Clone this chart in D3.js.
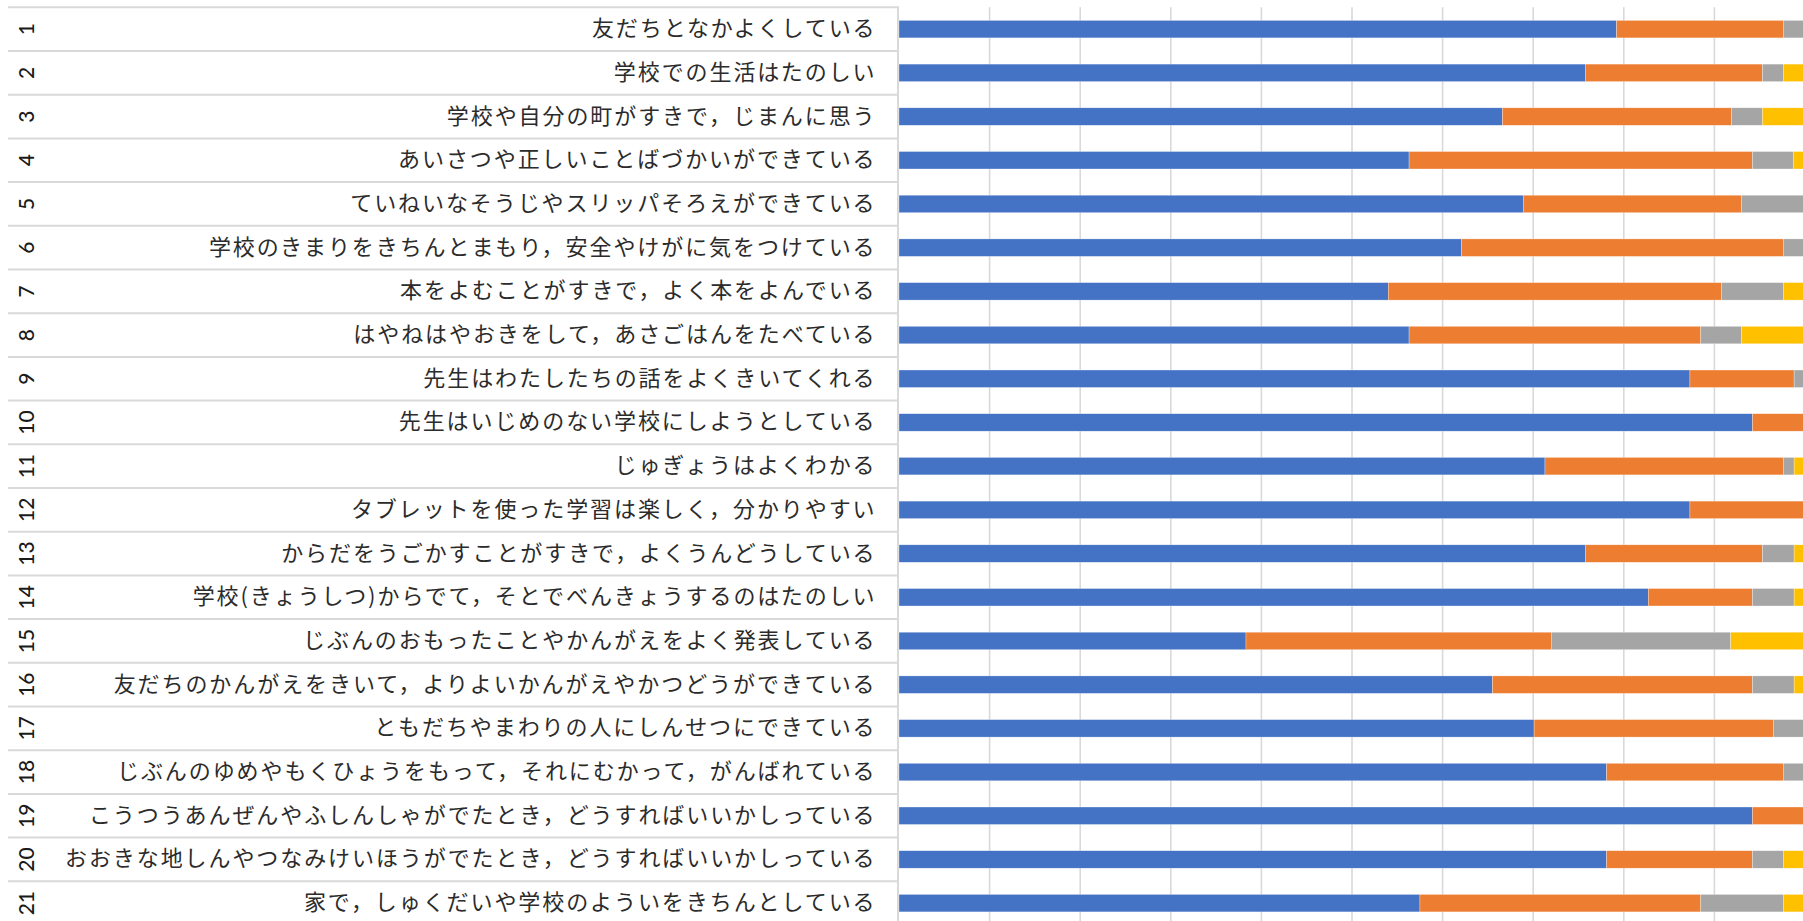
<!DOCTYPE html>
<html>
<head>
<meta charset="utf-8">
<script src="https://cdn.jsdelivr.net/npm/d3@7"></script>
<style>
  html, body { margin: 0; padding: 0; background: #fff; overflow: hidden; }
  svg { display: block; }
</style>
</head>
<body>
<svg id="chart" width="1803" height="921"></svg>
<script>
// ---- data ----
const numbers = ["1","2","3","4","5","6","7","8","9","10","11","12","13","14","15","16","17","18","19","20","21"];
const categories = [
  "友だちとなかよくしている",
  "学校での生活はたのしい",
  "学校や自分の町がすきで，じまんに思う",
  "あいさつや正しいことばづかいができている",
  "ていねいなそうじやスリッパそろえができている",
  "学校のきまりをきちんとまもり，安全やけがに気をつけている",
  "本をよむことがすきで，よく本をよんでいる",
  "はやねはやおきをして，あさごはんをたべている",
  "先生はわたしたちの話をよくきいてくれる",
  "先生はいじめのない学校にしようとしている",
  "じゅぎょうはよくわかる",
  "タブレットを使った学習は楽しく，分かりやすい",
  "からだをうごかすことがすきで，よくうんどうしている",
  "学校(きょうしつ)からでて，そとでべんきょうするのはたのしい",
  "じぶんのおもったことやかんがえをよく発表している",
  "友だちのかんがえをきいて，よりよいかんがえやかつどうができている",
  "ともだちやまわりの人にしんせつにできている",
  "じぶんのゆめやもくひょうをもって，それにむかって，がんばれている",
  "こうつうあんぜんやふしんしゃがでたとき，どうすればいいかしっている",
  "おおきな地しんやつなみけいほうがでたとき，どうすればいいかしっている",
  "家で，しゅくだいや学校のよういをきちんとしている"
];
const series1 = [79.2, 75.8, 66.6, 56.3, 68.9, 62.1, 54.0, 56.3, 87.3, 94.2, 71.3, 87.3, 75.8, 82.7, 38.3, 65.5, 70.1, 78.1, 94.2, 78.1, 57.5];
const series2 = [18.4, 19.5, 25.3, 37.9, 24.1, 35.5, 36.8, 32.2, 11.5,  5.8, 26.3, 12.7, 19.5, 11.5, 33.7, 28.7, 26.4, 19.5,  5.8, 16.1, 31.0];
const series3 = [ 2.4,  2.3,  3.4,  4.5,  7.0,  2.4,  6.8,  4.5,  1.2,  0.0,  1.2,  0.0,  3.5,  4.6, 19.8,  4.6,  3.5,  2.4,  0.0,  3.4,  9.1];
const series4 = [ 0.0,  2.4,  4.7,  1.3,  0.0,  0.0,  2.4,  7.0,  0.0,  0.0,  1.2,  0.0,  1.2,  1.2,  8.2,  1.2,  0.0,  0.0,  0.0,  2.4,  2.4];
const seriesKeys = ["s1", "s2", "s3", "s4"];
const seriesColors = ["#4472C4", "#ED7D31", "#A5A5A5", "#FFC000"];
const xTicks = [0, 10, 20, 30, 40, 50, 60, 70, 80, 90, 100];

// ---- build table ----
const rows = categories.map((c, i) => ({
  id: numbers[i], label: c,
  s1: series1[i], s2: series2[i], s3: series3[i], s4: series4[i]
}));

// ---- layout ----
const plotLeft = 899, plotRight = 1805;
const plotTop = 7.3, step = 43.7;
const plotBottom = plotTop + step * rows.length;
const labelLeft = 8;

const svg = d3.select("#chart");

const x = d3.scaleLinear().domain([0, 100]).range([plotLeft, plotRight]);
const y = d3.scaleBand().domain(numbers).range([plotTop, plotBottom]).paddingInner(0.6).paddingOuter(0.3);
const color = d3.scaleOrdinal().domain(seriesKeys).range(seriesColors);

// gridlines
svg.append("g").selectAll("line").data(xTicks.filter(t => t > 0)).join("line")
  .attr("x1", d => x(d)).attr("x2", d => x(d))
  .attr("y1", plotTop).attr("y2", plotBottom)
  .attr("stroke", "#d9d9d9").attr("stroke-width", 1.6);

// category separators (table style)
const bounds = d3.range(rows.length + 1).map(i => plotTop + i * step);
svg.append("g").selectAll("line").data(bounds).join("line")
  .attr("x1", labelLeft).attr("x2", plotLeft - 1)
  .attr("y1", d => d).attr("y2", d => d)
  .attr("stroke", "#d9d9d9").attr("stroke-width", 2);
svg.append("line")
  .attr("x1", plotLeft - 1).attr("x2", plotLeft - 1)
  .attr("y1", plotTop - 1).attr("y2", plotBottom)
  .attr("stroke", "#d9d9d9").attr("stroke-width", 2);

// bars
const stack = d3.stack().keys(seriesKeys);
const stacked = stack(rows);
svg.append("g").selectAll("g").data(stacked).join("g")
  .attr("fill", d => color(d.key))
  .selectAll("rect").data(d => d).join("rect")
  .attr("x", d => x(d[0]))
  .attr("y", d => y(d.data.id))
  .attr("width", d => Math.max(0, x(d[1]) - x(d[0])))
  .attr("height", y.bandwidth())
  .attr("stroke", "#ffffff").attr("stroke-width", 0.5).attr("stroke-opacity", 0.6);

// category labels
svg.append("g").selectAll("text").data(rows).join("text")
  .attr("x", 876.5)
  .attr("y", d => y(d.id) + y.bandwidth() / 2 - 3)
  .attr("text-anchor", "end")
  .attr("dominant-baseline", "central")
  .style("font-family", "'Noto Sans CJK JP', sans-serif")
  .style("font-size", "22px")
  .style("letter-spacing", "1.92px")
  .attr("fill", "#2b2b2b")
  .text(d => d.label);

// number labels (rotated)
svg.append("g").selectAll("text").data(rows).join("text")
  .attr("transform", d => `translate(34, ${y(d.id) + y.bandwidth() / 2}) rotate(-90)`)
  .attr("text-anchor", "middle")
  .style("font-family", "Lato, sans-serif")
  .style("font-size", "21px")
  .style("font-weight", "500")
  .attr("fill", "#1a1a1a")
  .text(d => d.id);
</script>
</body>
</html>
